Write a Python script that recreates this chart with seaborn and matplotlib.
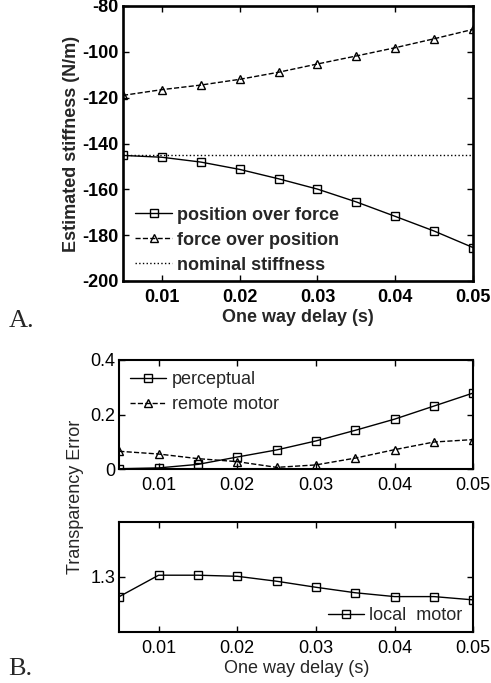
import numpy as np
import matplotlib
matplotlib.use("Agg")
import matplotlib.pyplot as plt
import seaborn as sns

# one way delay (s)
delay = [0.005, 0.01, 0.015, 0.02, 0.025, 0.03, 0.035, 0.04, 0.045, 0.05]

# panel A: estimated stiffness (N/m)
pos_over_force = [-145.2, -146.0, -148.1, -151.3, -155.4, -159.9, -165.5, -171.8, -178.2, -185.4]
force_over_pos = [-119.0, -116.5, -114.5, -112.0, -108.9, -105.3, -101.8, -98.2, -94.3, -90.2]
nominal = -145.0

# panel B: transparency error
perceptual = [0.001, 0.004, 0.017, 0.044, 0.070, 0.103, 0.142, 0.183, 0.231, 0.279]
remote_motor = [0.065, 0.055, 0.038, 0.027, 0.006, 0.015, 0.040, 0.071, 0.099, 0.108]
local_motor = [1.264, 1.303, 1.303, 1.301, 1.292, 1.281, 1.271, 1.264, 1.264, 1.258]

xticks = [0.01, 0.02, 0.03, 0.04, 0.05]
xtick_labels = ["0.01", "0.02", "0.03", "0.04", "0.05"]

sns.set_style("ticks")
plt.rcParams['font.family'] = ['Liberation Sans', 'DejaVu Sans']
plt.rcParams['axes.unicode_minus'] = False
FS = 13
plt.rcParams['font.size'] = FS

fig = plt.figure(figsize=(4.91, 6.83), dpi=100)
W, H = 491, 683


def make_ax(l, t, r, b):
    return fig.add_axes([l / W, 1 - b / H, (r - l) / W, (b - t) / H])


def style_ax(ax, lw):
    for s in ax.spines.values():
        s.set_linewidth(lw)
        s.set_color('k')
    ax.tick_params(direction='in', top=True, right=True, length=4, width=1,
                   colors='k', labelsize=FS)
    ax.tick_params(axis='x', pad=6)
    ax.tick_params(axis='y', pad=3)
    ax.set_xlim(0.005, 0.05)
    ax.set_xticks(xticks)
    ax.set_xticklabels(xtick_labels)


def draw(ax, y, marker, ls, label, ms=6):
    sns.lineplot(x=delay, y=y, ax=ax, color='k', marker=marker, linestyle=ls,
                 markerfacecolor='none', markeredgecolor='k', markeredgewidth=1,
                 markersize=ms, linewidth=1, label=label, legend=False)


# ---- A ----
axA = make_ax(123, 6, 473, 281)
style_ax(axA, 1.9)
draw(axA, pos_over_force, 's', '-', 'position over force')
draw(axA, force_over_pos, '^', '--', 'force over position')
axA.axhline(nominal, color='k', linestyle=':', linewidth=1, label='nominal stiffness')
axA.set_ylim(-200, -80)
axA.set_yticks([-200, -180, -160, -140, -120, -100, -80])
for t in axA.get_xticklabels() + axA.get_yticklabels():
    t.set_fontweight('bold')
axA.set_xlabel("One way delay (s)", fontweight='bold', fontsize=FS, labelpad=2)
axA.set_ylabel("Estimated stiffness (N/m)", fontweight='bold', fontsize=FS, labelpad=2)
axA.legend(loc='lower left', bbox_to_anchor=(0.015, 0.0), frameon=False,
           prop={'weight': 'bold', 'size': FS},
           handlelength=2.0, handletextpad=0.3, labelspacing=0.45,
           borderaxespad=0.0, markerscale=0.9)

# ---- B upper ----
axB1 = make_ax(119.3, 360, 473.3, 469)
style_ax(axB1, 1.5)
draw(axB1, perceptual, 's', '-', 'perceptual')
draw(axB1, remote_motor, '^', '--', 'remote motor')
axB1.set_ylim(0, 0.4)
axB1.set_yticks([0, 0.2, 0.4])
axB1.set_yticklabels(["0", "0.2", "0.4"])
axB1.set_xlabel("")
axB1.legend(loc='upper left', frameon=False, prop={'size': FS},
            handlelength=2.0, handletextpad=0.3, labelspacing=0.45,
            borderaxespad=0.2, markerscale=0.9)

# ---- B lower ----
axB2 = make_ax(119.3, 522, 473.3, 631.7)
style_ax(axB2, 1.5)
draw(axB2, local_motor, 's', '-', 'local  motor')
axB2.set_ylim(1.2, 1.4)
axB2.set_yticks([1.3])
axB2.set_yticklabels(["1.3"])
axB2.set_xlabel("One way delay (s)", fontsize=FS, labelpad=2)
axB2.legend(loc='lower right', bbox_to_anchor=(0.99, 0.0), frameon=False,
            prop={'size': FS}, handlelength=2.0, handletextpad=0.3,
            borderaxespad=0.0, markerscale=0.9)

fig.text(76 / W, 1 - 497 / H, "Transparency Error", rotation=90, fontsize=FS,
         ha='center', va='center')

fig.text(9 / W, 1 - 327 / H, "A.", family=['Liberation Serif', 'DejaVu Serif'],
         fontsize=19, ha='left', va='baseline')
fig.text(8 / W, 1 - 675 / H, "B.", family=['Liberation Serif', 'DejaVu Serif'],
         fontsize=19, ha='left', va='baseline')

fig.savefig("out.png", dpi=100)
